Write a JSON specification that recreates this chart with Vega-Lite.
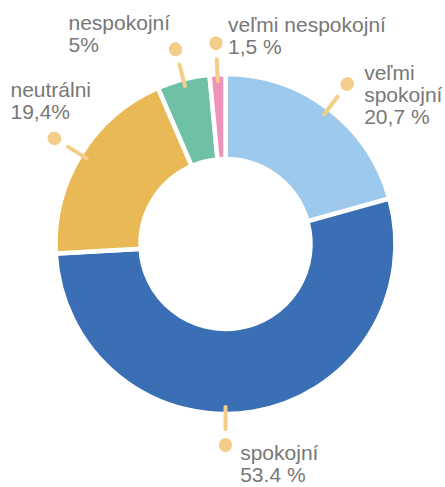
{
  "$schema": "https://vega.github.io/schema/vega-lite/v6.json",
  "width": 439,
  "height": 486,
  "autosize": {"type": "none"},
  "padding": {"left": 6, "top": 1, "right": 0, "bottom": 0},
  "background": "white",
  "config": {"view": {"stroke": null}},
  "data": {
    "values": [
      {"category": "veľmi spokojní", "value": 20.7, "rank": 1, "label": "veľmi\nspokojní\n20,7  %"},
      {"category": "spokojní", "value": 53.4, "rank": 2, "label": "spokojní\n53.4 %"},
      {"category": "neutrálni", "value": 19.4, "rank": 3, "label": "neutrálni\n19,4%"},
      {"category": "nespokojní", "value": 5, "rank": 4, "label": "nespokojní\n5%"},
      {"category": "veľmi nespokojní", "value": 1.5, "rank": 5, "label": "veľmi nespokojní\n1,5 %"}
    ]
  },
  "layer": [
    {
      "mark": {"type": "arc", "innerRadius": 85, "outerRadius": 170, "stroke": "white", "strokeWidth": 4.5},
      "encoding": {
        "theta": {"field": "value", "type": "quantitative", "stack": true},
        "order": {"field": "rank", "type": "quantitative"},
        "color": {
          "field": "category",
          "type": "nominal",
          "legend": null,
          "scale": {
            "domain": ["veľmi spokojní", "spokojní", "neutrálni", "nespokojní", "veľmi nespokojní"],
            "range": ["#9DC9EC", "#3A6FB5", "#E9B955", "#6EC1A7", "#EE92BA"]
          }
        }
      }
    },
    {
      "mark": {"type": "arc", "filled": false, "innerRadius": 163, "outerRadius": 185, "padAngle": 2.5, "stroke": "#F4CD8A", "strokeWidth": 4, "strokeJoin": "round", "strokeCap": "round"},
      "encoding": {
        "theta": {"field": "value", "type": "quantitative", "stack": true},
        "order": {"field": "rank", "type": "quantitative"},
        "strokeOpacity": {"condition": {"test": "datum.category === 'spokojní'", "value": 0}, "value": 1}
      }
    },
    {
      "mark": {"type": "arc", "filled": false, "innerRadius": 200.5, "outerRadius": 201.5, "padAngle": 2.5, "stroke": "#F4CD8A", "strokeWidth": 13, "strokeJoin": "round", "strokeCap": "round"},
      "encoding": {
        "theta": {"field": "value", "type": "quantitative", "stack": true},
        "order": {"field": "rank", "type": "quantitative"},
        "strokeOpacity": {"condition": {"test": "datum.category === 'spokojní'", "value": 0}, "value": 1}
      }
    },
    {
      "transform": [{"filter": "datum.category === 'spokojní'"}],
      "mark": {"type": "arc", "filled": false, "innerRadius": 163, "outerRadius": 185, "stroke": "#F4CD8A", "strokeWidth": 4, "strokeJoin": "round", "strokeCap": "round"},
      "encoding": {
        "theta": {"datum": 50, "type": "quantitative"},
        "theta2": {"datum": 50}
      }
    },
    {
      "transform": [{"filter": "datum.category === 'spokojní'"}],
      "mark": {"type": "arc", "filled": false, "innerRadius": 200.5, "outerRadius": 201.5, "stroke": "#F4CD8A", "strokeWidth": 13, "strokeJoin": "round", "strokeCap": "round"},
      "encoding": {
        "theta": {"datum": 50, "type": "quantitative"},
        "theta2": {"datum": 50}
      }
    },
    {
      "mark": {
        "type": "text",
        "radius": 201,
        "align": "left",
        "baseline": "alphabetic",
        "font": "Liberation Sans",
        "fontSize": 21,
        "lineHeight": 22,
        "lineBreak": "\n",
        "color": "#777777",
        "dx": {"expr": "datum.category === 'veľmi spokojní' ? 17 : datum.category === 'spokojní' ? -18 : datum.category === 'neutrálni' ? -44 : datum.category === 'nespokojní' ? -107 : 12"},
        "dy": {"expr": "datum.category === 'veľmi spokojní' ? -4 : datum.category === 'spokojní' ? 17.5 : datum.category === 'neutrálni' ? -41 : datum.category === 'nespokojní' ? -19 : -11.5"}
      },
      "encoding": {
        "theta": {"field": "value", "type": "quantitative", "stack": true},
        "order": {"field": "rank", "type": "quantitative"},
        "text": {"field": "label", "type": "nominal"}
      }
    }
  ]
}
